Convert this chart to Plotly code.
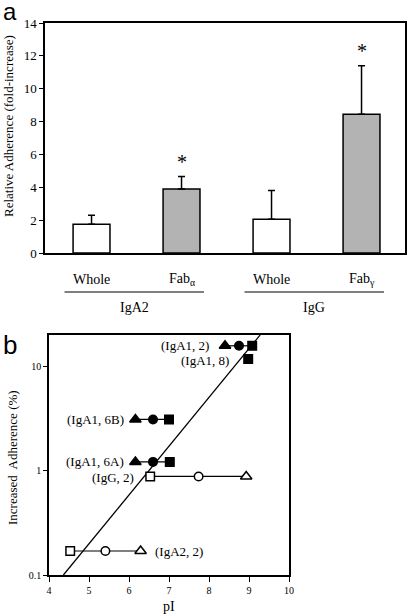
import math
import plotly.graph_objects as go

# ---------- Panel a data ----------
bar_categories = ["Whole", "Fab<sub>α</sub>", "Whole", "Fab<sub>γ</sub>"]
bar_values = [1.75, 3.9, 2.05, 8.45]
bar_errors = [0.55, 0.75, 1.75, 2.95]
bar_colors = ["white", "#b3b3b3", "white", "#b3b3b3"]
significant = [False, True, False, True]
group_names = ["IgA2", "IgG"]
group_members = [[0, 1], [2, 3]]
ya_ticks = [0, 2, 4, 6, 8, 10, 12, 14]

# ---------- Panel b data ----------
series_labels = ["(IgA1, 2)", "(IgA1, 8)", "(IgA1, 6B)", "(IgA1, 6A)", "(IgG, 2)", "(IgA2, 2)"]
pI_triangle = [8.40, None, 6.16, 6.16, 8.93, 6.29]
pI_circle = [8.75, None, 6.60, 6.60, 7.74, 5.41]
pI_square = [9.08, 8.98, 7.00, 7.02, 6.53, 4.53]
adherence = [15.9, 11.9, 3.12, 1.22, 0.884, 0.170]
filled = [True, True, True, True, False, False]
fit_pI = [4.36, 9.28]
fit_adherence = [0.1, 20.2]
xb_ticks = [4, 5, 6, 7, 8, 9, 10]
yb_ticks = [0.1, 1, 10]

SERIF = "Liberation Serif"
SANS = "Liberation Sans"
W, H = 410, 615

def px(xp):
    return xp / W

def py(yp):
    return 1 - yp / H

# label placement offsets (pixels) for panel b labels
label_shift = {0: (-14, 0), 1: (-17, -2), 2: (-9, 0), 3: (-9, 0), 4: (-14, -1), 5: (12, 0)}

fig = go.Figure()

# Bars (panel a)
xpos = list(range(len(bar_values)))
fig.add_trace(go.Bar(
    x=xpos, y=bar_values, width=0.41,
    marker=dict(color=bar_colors, line=dict(color="black", width=1.5)),
    error_y=dict(type="data", symmetric=False, array=bar_errors,
                 arrayminus=[0] * len(bar_errors), color="black",
                 thickness=1.5, width=3.5),
    xaxis="x", yaxis="y", showlegend=False, hoverinfo="skip",
))

# Regression line (panel b)
fig.add_trace(go.Scatter(
    x=fit_pI, y=fit_adherence, mode="lines", line=dict(color="black", width=1.3),
    xaxis="x2", yaxis="y2", showlegend=False, hoverinfo="skip",
))

# Panel b: series
for i, lab in enumerate(series_labels):
    pts = []
    for v, s in ((pI_square[i], "square"), (pI_circle[i], "circle"), (pI_triangle[i], "triangle-up")):
        if v is not None:
            pts.append((v, s))
    pts.sort()
    xs = [p[0] for p in pts]
    syms = [p[1] for p in pts]
    sizes = [10 if s.startswith("triangle") else 8.5 for s in syms]
    fig.add_trace(go.Scatter(
        x=xs, y=[adherence[i]] * len(xs), mode="lines+markers",
        line=dict(color="black", width=1.2),
        marker=dict(symbol=syms, size=sizes, color="black" if filled[i] else "white",
                    opacity=1, line=dict(color="black", width=1.5)),
        xaxis="x2", yaxis="y2", showlegend=False, cliponaxis=False, hoverinfo="skip",
    ))
    ly = math.log10(adherence[i])
    dx, dy = label_shift[i]
    if dx > 0:
        fig.add_annotation(x=max(xs), y=ly, xref="x2", yref="y2",
                           text=lab, showarrow=False, xanchor="left", yanchor="middle",
                           xshift=dx, yshift=dy,
                           font=dict(family=SERIF, size=13, color="black"))
    else:
        fig.add_annotation(x=min(xs), y=ly, xref="x2", yref="y2",
                           text=lab, showarrow=False, xanchor="right", yanchor="middle",
                           xshift=dx, yshift=dy,
                           font=dict(family=SERIF, size=13, color="black"))

# Panel a annotations: category labels, asterisks, group lines
for i, c in enumerate(bar_categories):
    fig.add_annotation(x=i, y=py(279), xref="x", yref="paper", text=c,
                       showarrow=False, xanchor="center", yanchor="middle",
                       font=dict(family=SERIF, size=14, color="black"))
    if significant[i]:
        fig.add_annotation(x=i, y=bar_values[i] + bar_errors[i], xref="x", yref="y",
                           text="*", showarrow=False, yshift=15,
                           xanchor="center", yanchor="middle",
                           font=dict(family=SERIF, size=20, color="black"))
for g, members in zip(group_names, group_members):
    x0 = min(members) - 0.3
    x1 = max(members) + 0.25
    fig.add_shape(type="line", x0=x0, x1=x1, xref="x", yref="paper",
                  y0=py(292), y1=py(292), line=dict(color="black", width=1.2))
    fig.add_annotation(x=(x0 + x1) / 2, y=py(307), xref="x", yref="paper", text=g,
                       showarrow=False, xanchor="center", yanchor="middle",
                       font=dict(family=SERIF, size=14, color="black"))

# Axis titles
fig.add_annotation(x=px(9), y=py(126), xref="paper", yref="paper",
                   text="Relative Adherence (fold-increase)", textangle=-90, showarrow=False,
                   xanchor="center", yanchor="middle",
                   font=dict(family=SERIF, size=13, color="black"))
fig.add_annotation(x=px(12), y=py(458), xref="paper", yref="paper",
                   text="Increased  Adherence (%)", textangle=-90, showarrow=False,
                   xanchor="center", yanchor="middle",
                   font=dict(family=SERIF, size=13, color="black"))
fig.add_annotation(x=px(169), y=py(606), xref="paper", yref="paper",
                   text="pI", showarrow=False, xanchor="center", yanchor="middle",
                   font=dict(family=SERIF, size=14, color="black"))

# Panel letters
fig.add_annotation(x=px(1), y=py(11), xref="paper", yref="paper", text="a",
                   showarrow=False, xanchor="left", yanchor="middle",
                   font=dict(family=SANS, size=24, color="black"))
fig.add_annotation(x=px(1), y=py(345), xref="paper", yref="paper", text="b",
                   showarrow=False, xanchor="left", yanchor="middle",
                   font=dict(family=SANS, size=26, color="black"))

axis_common = dict(showline=True, linecolor="black", linewidth=1.5, mirror=True,
                   showgrid=False, zeroline=False, ticks="outside",
                   tickcolor="black", tickwidth=1.2, automargin=False)

fig.update_layout(
    width=W, height=H, margin=dict(l=0, r=0, t=0, b=0, autoexpand=False),
    paper_bgcolor="white", plot_bgcolor="white",
    font=dict(family=SERIF, color="black"),
    xaxis=dict(domain=[px(45), px(405)], range=[-0.517, 3.483], showticklabels=False,
               showline=True, linecolor="black", linewidth=1.5, mirror=True,
               showgrid=False, zeroline=False, ticks="", anchor="y", automargin=False),
    yaxis=dict(domain=[py(253), py(23)], range=[0, 14], tickvals=ya_ticks, ticklen=4,
               tickfont=dict(family=SERIF, size=13), anchor="x", **axis_common),
    xaxis2=dict(domain=[px(49), px(289)], range=[4, 10], tickvals=xb_ticks, ticklen=5,
                tickfont=dict(family=SERIF, size=10), anchor="y2", **axis_common),
    yaxis2=dict(domain=[py(575), py(335)], type="log", range=[-1, 1.305], ticklen=4,
                tickvals=yb_ticks, ticktext=["0.1", "1", "10"],
                tickfont=dict(family=SERIF, size=10), anchor="x2", **axis_common),
    bargap=0.5,
    hovermode=False,
)

fig.write_html("out.html", config={"displayModeBar": False},
               post_script="document.body.style.margin='0';")
